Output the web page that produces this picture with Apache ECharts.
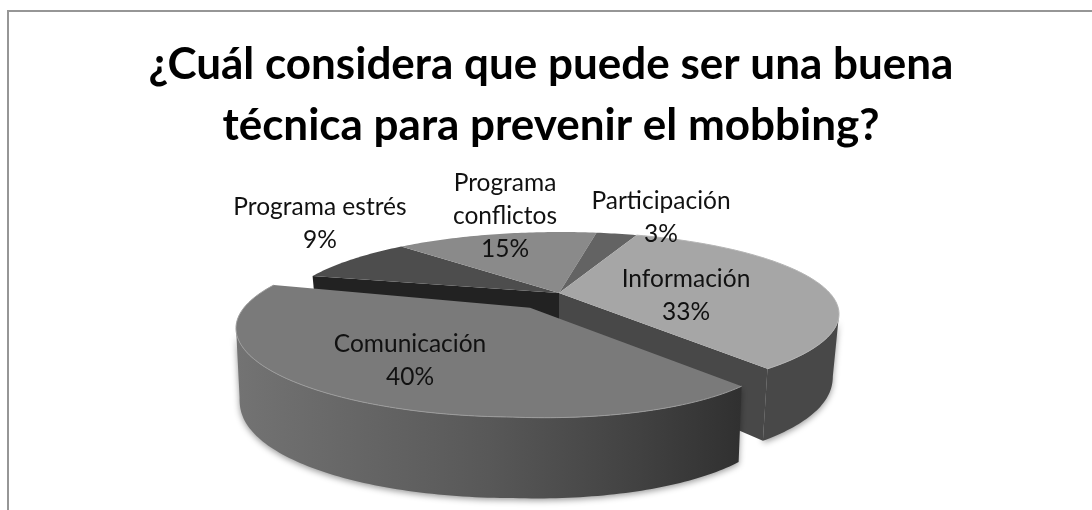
<!DOCTYPE html>
<html><head><meta charset="utf-8">
<style>html,body{margin:0;padding:0;background:#fff}#c{width:1092px;height:510px}</style>
<script src="https://cdn.jsdelivr.net/npm/echarts@6/dist/echarts.min.js"></script>
</head><body><div id="c"></div>
<script>
const categories = ['Programa estrés', 'Programa conflictos', 'Participación', 'Información', 'Comunicación'];
const values = [9, 15, 3, 33, 40];
const percentLabels = ['9%', '15%', '3%', '33%', '40%'];
const titleLines = ['¿Cuál considera que puede ser una buena', 'técnica para prevenir el mobbing?'];

// Presentation only: perspective of the tilted pie, colours and label placement
const startAngle = -76.4;
const mainView = {cx: 560, cy: 314, a: 279, b: 82, ax: 559, ay: 293, tiltL: 0, tiltR: 0, shrink: 0.978, d: 60, dx: 0, dy: 14.7};
const frontView = {cx: 510, cy: 331, a: 274, b: 86, ax: 530, ay: 307, tiltL: 0.01, tiltR: 0.04, shrink: 0.987, d: 68, dx: -2, dy: 13};
const styles = [
  {view: mainView, top: '#4d4d4d', radial: '#222222', label: [320, 207]},
  {view: mainView, top: '#8a8a8a', label: [505, 183]},
  {view: mainView, top: '#636363', label: [661, 201]},
  {view: mainView, top: '#a6a6a6', radial: '#484848', wall: '#484848', rim: '#b4b4b4', extra: 2.4, label: [686, 279]},
  {view: frontView, top: '#7a7a7a', wall: 'front', rim: '#9c9c9c', lead: 2, label: [410, 344]}
];
const labelLineHeight = 33;
const labelFont = 'Lato, sans-serif';

function project(view, deg, r) {
  const t = deg * Math.PI / 180, u = r * Math.sin(t), v = r * Math.cos(t);
  const px = (view.ax - view.cx) / view.a, py = (view.cy - view.ay) / view.b;
  const pp = px * px + py * py, s = Math.sqrt(1 - pp), pq = px * u + py * v, par = pq / pp;
  const w = 1 + pq;
  const qx = (px + par * px + s * (u - par * px)) / w;
  const qy = (py + par * py + s * (v - par * py)) / w;
  const x = view.cx + view.a * qx, off = x - view.cx;
  return {x, y: view.cy - view.b * qy + (off > 0 ? view.tiltR : view.tiltL) * off, qx, qy};
}
function topPoint(view, deg, r) { const p = project(view, deg, r); return [p.x, p.y]; }
function bottomPoint(view, deg, r) {
  const p = project(view, deg, r);
  const depth = view.d + view.dx * p.qx + view.dy * Math.sqrt(Math.max(0, -p.qy));
  return [view.cx + (p.x - view.cx) * view.shrink, p.y + depth];
}
function angles(from, to) {
  const out = [], n = Math.max(4, Math.ceil(Math.abs(to - from)));
  for (let i = 0; i <= n; i++) out.push(from + (to - from) * i / n);
  return out;
}
const total = values.reduce((s, v) => s + v, 0);
const starts = []; values.reduce((acc, v, i) => (starts[i] = acc, acc + v / total * 360), startAngle);

function renderSlice(params, api) {
  const i = params.dataIndex, st = styles[i], view = st.view;
  const from = starts[i] - (st.lead || 0), to = starts[i] + api.value(0) / total * 360 + (st.extra || 0);
  const kids = [];
  const apexT = topPoint(view, 0, 0), apexB = bottomPoint(view, 0, 0);
  const rimAngles = angles(from, to);
  if (st.wall) {
    const xs = rimAngles.map(a => project(view, a, 1).x);
    // The wall only covers the rim facing the viewer: it stops where the outline runs straight down
    const wallAngles = st.wall === 'front'
      ? rimAngles.slice(0, xs.indexOf(Math.min(...xs)) + 1)
      : rimAngles.slice(xs.indexOf(Math.max(...xs)));
    const wallPts = wallAngles.map(a => topPoint(view, a, 1))
      .concat(wallAngles.slice().reverse().map(a => bottomPoint(view, a, 1)));
    kids.push({type: 'polygon', shape: {points: wallPts}, style: {
      fill: st.wall === 'front' ? new echarts.graphic.LinearGradient(0, 0, 1, 0, [
        {offset: 0, color: '#737373'}, {offset: 0.5, color: '#585858'},
        {offset: 0.8, color: '#414141'}, {offset: 1, color: '#303030'}]) : st.wall,
      shadowBlur: 6, shadowColor: 'rgba(0,0,0,0.4)', shadowOffsetY: 2}});
  }
  if (st.radial) {
    const edge = i === 0 ? from : to;
    kids.push({type: 'polygon', shape: {points: [apexT, topPoint(view, edge, 1), bottomPoint(view, edge, 1), apexB]},
      style: {fill: st.radial}});
  }
  const rim = rimAngles.map(a => topPoint(view, a, 1));
  kids.push({type: 'polygon', shape: {points: [apexT].concat(rim)}, style: {fill: st.top}});
  if (st.rim) kids.push({type: 'polyline', shape: {points: rim},
    style: {fill: null, stroke: st.rim, lineWidth: 1}});
  return {type: 'group', children: kids};
}
function renderLabel(params, api) {
  const i = params.dataIndex, st = styles[i];
  const nameLines = categories[i] === 'Programa conflictos' ? ['Programa', 'conflictos'] : [categories[i]];
  const lines = nameLines.concat(percentLabels[i]);
  return {type: 'group', children: lines.map((t, j) => ({
    type: 'text', style: {x: st.label[0], y: st.label[1] + j * labelLineHeight, text: t,
      fill: '#111111', font: '24.5px ' + labelFont, align: 'center', verticalAlign: 'middle'}
  }))};
}
const chart = echarts.init(document.getElementById('c'), null, {renderer: 'canvas'});
chart.setOption({
  animation: false,
  backgroundColor: '#ffffff',
  title: titleLines.map((t, i) => ({
    text: t, left: 546, top: 38 + i * 61, textAlign: 'center',
    textStyle: {fontFamily: 'Lato, sans-serif', fontWeight: 'bold', fontSize: 44, color: '#000'}
  })),
  graphic: [
    {type: 'polyline', shape: {points: [[8, 510], [8, 11], [1092, 11]]},
     style: {fill: null, stroke: '#969696', lineWidth: 2}, silent: true}
  ],
  series: [
    {type: 'custom', coordinateSystem: 'none', renderItem: renderSlice, silent: true,
     data: values.map(v => [v])},
    {type: 'custom', coordinateSystem: 'none', renderItem: renderLabel, silent: true, z: 5,
     data: values.map(v => [v])}
  ]
});
</script></body></html>
